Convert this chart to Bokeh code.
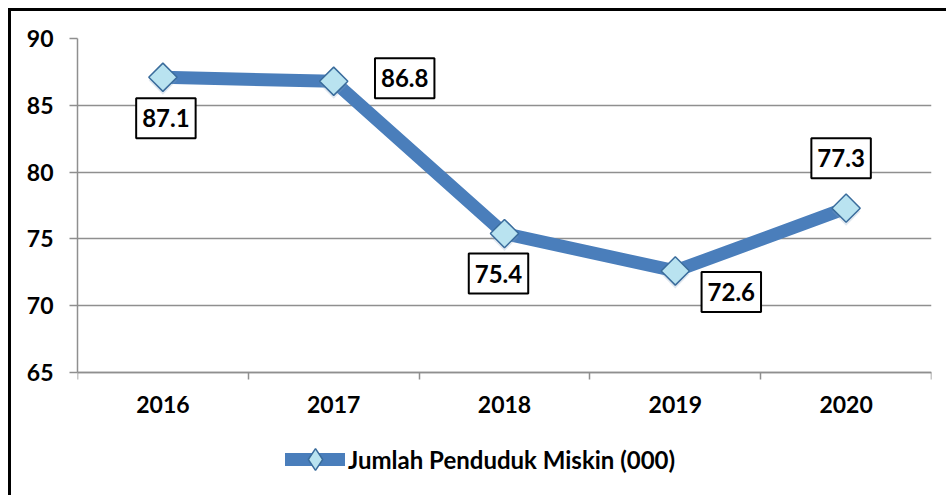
import math
from bokeh.plotting import figure
from bokeh.models import Range1d, FixedTicker, Label, Legend, LegendItem
from bokeh.embed import file_html
from bokeh.resources import INLINE

# ---- data ----
years = ["2016", "2017", "2018", "2019", "2020"]
values = [87.1, 86.8, 75.4, 72.6, 77.3]
y_ticks = [65, 70, 75, 80, 85, 90]
series_name = "Jumlah Penduduk Miskin (000)"

# label offsets (screen px) for each data label
label_dx = [3, 71, -6, 56, -5]
label_dy = [-41, 3, -40, -21, 50]

xs = list(range(1, len(years) + 1))

FONT = "Lato"
LINE_BLUE = "#4a7ebb"
GRID = "#8f8f8f"
MK_FILL = "#b9e3f0"
MK_LINE = "#3a6c9c"

# frame extends below the value axis so the legend can sit inside it
p = figure(width=938, height=487, output_backend="svg", toolbar_location=None,
           x_range=Range1d(0.5, len(years) + 0.5), y_range=Range1d(55.57, 90),
           min_border_left=66, min_border_right=18, min_border_top=27, min_border_bottom=0)
p.margin = (8, 0, 0, 8)
p.styles = {"border-left": "3px solid black", "border-top": "3px solid black"}
p.outline_line_color = None
p.background_fill_color = "white"
p.border_fill_color = "white"

# axes
p.xaxis.fixed_location = y_ticks[0]
p.xaxis.ticker = FixedTicker(ticks=xs, minor_ticks=[x - 0.5 for x in xs] + [xs[-1] + 0.5])
p.xaxis.major_label_overrides = {x: y for x, y in zip(xs, years)}
p.xaxis.major_tick_line_color = None
p.xaxis.major_tick_out = 0
p.xaxis.major_tick_in = 0
p.xaxis.minor_tick_out = 7
p.xaxis.minor_tick_in = 0
p.xaxis.minor_tick_line_color = GRID
p.xaxis.minor_tick_line_width = 1.5
p.xaxis.axis_line_color = GRID
p.xaxis.axis_line_width = 1.5
p.xaxis.major_label_standoff = 16
p.xaxis.major_label_text_font = FONT
p.xaxis.major_label_text_font_style = "bold"
p.xaxis.major_label_text_font_size = "23px"
p.xaxis.major_label_text_color = "black"

p.yaxis.bounds = (y_ticks[0], y_ticks[-1])
p.yaxis.ticker = FixedTicker(ticks=y_ticks, minor_ticks=[])
p.yaxis.major_tick_out = 8
p.yaxis.major_tick_in = 0
p.yaxis.major_tick_line_color = GRID
p.yaxis.major_tick_line_width = 1.5
p.yaxis.minor_tick_line_color = None
p.yaxis.axis_line_color = GRID
p.yaxis.axis_line_width = 1.5
p.yaxis.major_label_standoff = 16
p.yaxis.major_label_text_font = FONT
p.yaxis.major_label_text_font_style = "bold"
p.yaxis.major_label_text_font_size = "23px"
p.yaxis.major_label_text_color = "black"

p.xgrid.grid_line_color = None
p.ygrid.ticker = FixedTicker(ticks=y_ticks)
p.ygrid.grid_line_color = GRID
p.ygrid.grid_line_width = 1.5

# series
ln = p.line(xs, values, line_color=LINE_BLUE, line_width=13, line_cap="round", line_join="round")
sh = p.scatter(xs, [v - 0.25 for v in values], marker="square", size=20, angle=math.pi / 4,
               fill_color="#7f9fbf", fill_alpha=0.25, line_color=None)
# diamond used for the legend swatch (hidden beneath the plotted markers)
mk_legend = p.scatter(xs, values, marker="diamond", size=20,
                      fill_color=MK_FILL, line_color=MK_LINE, line_width=1.5)
mk = p.scatter(xs, values, marker="square", size=20, angle=math.pi / 4,
               fill_color=MK_FILL, line_color=MK_LINE, line_width=1.5)

# data labels
for x, v, dx, dy in zip(xs, values, label_dx, label_dy):
    p.add_layout(Label(x=x, y=v, text=f"{v:.1f}", x_offset=dx, y_offset=dy,
                       text_align="center", text_baseline="middle",
                       text_font=FONT, text_font_style="bold", text_font_size="24px",
                       text_color="black", background_fill_color="white",
                       border_line_color="black", border_line_width=2, padding=(6, 11)))

legend = Legend(items=[LegendItem(label=series_name, renderers=[ln, mk_legend])],
                location=(208, 12), orientation="horizontal",
                glyph_width=60, glyph_height=54, label_standoff=3,
                padding=0, margin=0, border_line_color=None, background_fill_alpha=0,
                label_text_font=FONT, label_text_font_style="bold",
                label_text_font_size="24px", label_text_color="black")
p.add_layout(legend, "center")

open("out.html", "w").write(file_html(p, INLINE))
